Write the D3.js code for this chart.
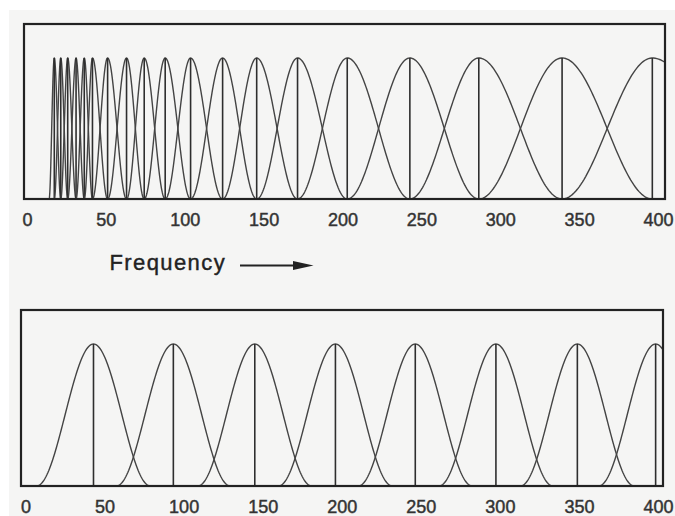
<!DOCTYPE html>
<html>
<head>
<meta charset="utf-8">
<script src="https://cdn.jsdelivr.net/npm/d3@7/dist/d3.min.js"></script>
<style>
  html, body { margin: 0; padding: 0; background: #ffffff; }
  svg { display: block; }
  text { font-family: "Liberation Sans", Arial, Helvetica, sans-serif; }
</style>
</head>
<body>
<svg id="chart" width="675" height="516"></svg>
<script>
// ---- Data ----
const tickLabels = [0, 50, 100, 150, 200, 250, 300, 350, 400];
// Top panel: centre frequencies of the non-uniform filter bank
const topCenters = [17.3, 21.4, 25.8, 31.1, 36.3, 41.5, 51.1, 63.1, 74.3, 87.6, 103.7, 124.0, 145.6, 171.5, 203.0, 242.7, 286.4, 339.2, 396.4];
const topEdges = [14, 468];          // lower edge of first filter, upper edge of last filter
// Bottom panel: centre frequencies of the uniform filter bank
const bottomCenters = [43, 93.5, 145, 196, 246.5, 297.5, 349, 398.5];
const bottomHalfWidth = 36;
const xLabel = "Frequency";

// ---- Layout ----
const svg = d3.select("#chart");
svg.append("rect").attr("x", 9).attr("y", 10).attr("width", 666).attr("height", 506).attr("fill", "#f5f5f4");

const panels = [
  { left: 24, right: 665, top: 24, bottom: 199, peak: 58, range: [27, 658] },
  { left: 21, right: 663, top: 310, bottom: 486, peak: 344, range: [25.5, 658] }
];

function hann(f, lo, c, hi) {
  if (f <= lo || f >= hi) return 0;
  if (f <= c) return 0.5 * (1 - Math.cos(Math.PI * (f - lo) / (c - lo)));
  return 0.5 * (1 + Math.cos(Math.PI * (f - c) / (hi - c)));
}

function drawPanel(p, filters, id) {
  const x = d3.scaleLinear().domain([0, 400]).range(p.range);
  const y = d3.scaleLinear().domain([0, 1]).range([p.bottom, p.peak]);
  const g = svg.append("g");

  svg.append("clipPath").attr("id", id)
    .append("rect").attr("x", p.left).attr("y", p.top)
    .attr("width", p.right - p.left).attr("height", p.bottom - p.top);

  const plot = g.append("g").attr("clip-path", `url(#${id})`);
  const line = d3.line().x(d => x(d[0])).y(d => y(d[1]));

  filters.forEach(fl => {
    const pts = [];
    const n = 120;
    for (let i = 0; i <= n; i++) {
      const f = fl.lo + (fl.hi - fl.lo) * i / n;
      pts.push([f, hann(f, fl.lo, fl.c, fl.hi)]);
    }
    plot.append("path").attr("d", line(pts))
      .attr("fill", "none").attr("stroke", "#444").attr("stroke-width", 1.4);
    plot.append("line")
      .attr("x1", x(fl.c)).attr("x2", x(fl.c))
      .attr("y1", y(0)).attr("y2", y(1))
      .attr("stroke", "#2e2e2e").attr("stroke-width", 1.6);
  });

  g.append("rect")
    .attr("x", p.left).attr("y", p.top)
    .attr("width", p.right - p.left).attr("height", p.bottom - p.top)
    .attr("fill", "none").attr("stroke", "#222").attr("stroke-width", 2.2);

  const axis = d3.axisBottom(x).tickValues(tickLabels).tickSize(0).tickPadding(14.7).tickFormat(d3.format("d"));
  const ax = g.append("g").attr("transform", `translate(0,${p.bottom})`).call(axis);
  ax.select(".domain").remove();
  ax.selectAll("text").attr("font-size", 18).attr("fill", "#333")
    .attr("stroke", "#333").attr("stroke-width", 0.45)
    .attr("font-family", "'Liberation Sans', Arial, sans-serif");
}

const topFilters = topCenters.map((c, i) => ({
  c,
  lo: i === 0 ? topEdges[0] : topCenters[i - 1],
  hi: i === topCenters.length - 1 ? topEdges[1] : topCenters[i + 1]
}));
const bottomFilters = bottomCenters.map(c => ({ c, lo: c - bottomHalfWidth, hi: c + bottomHalfWidth }));

drawPanel(panels[0], topFilters, "clipTop");
drawPanel(panels[1], bottomFilters, "clipBottom");

// Frequency label with arrow
svg.append("text").attr("x", 109.5).attr("y", 270).text(xLabel)
  .attr("font-size", 22).attr("letter-spacing", 1.4).attr("fill", "#222")
  .attr("stroke", "#222").attr("stroke-width", 0.4);
svg.append("line").attr("x1", 240).attr("x2", 296).attr("y1", 265.5).attr("y2", 265.5)
  .attr("stroke", "#222").attr("stroke-width", 1.8);
svg.append("path").attr("d", d3.line()([[293, 261], [313.5, 265.5], [293, 270]]) + "Z")
  .attr("fill", "#222");
</script>
</body>
</html>
